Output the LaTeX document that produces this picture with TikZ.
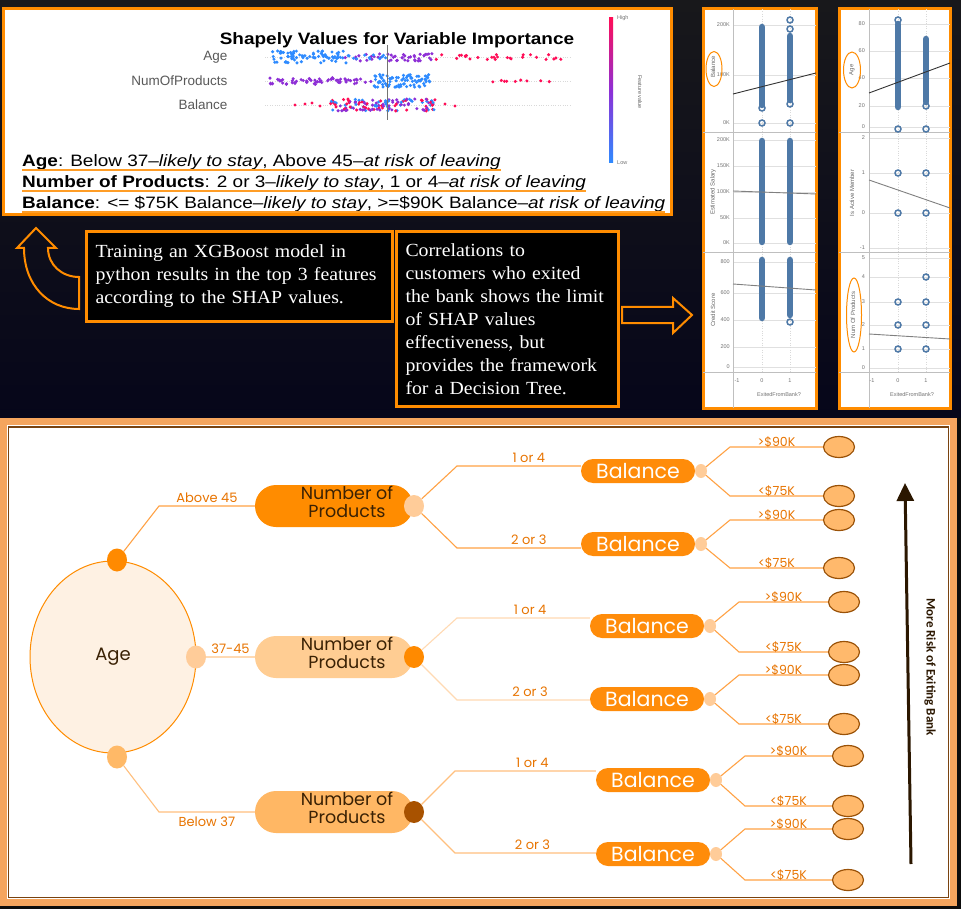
\documentclass[tikz,border=0pt]{standalone}
\usepackage{fontspec}
\usepackage{tikz}
\usetikzlibrary{calc,positioning,shapes,arrows.meta}
\newfontfamily\arialf{Liberation Sans}
\newfontfamily\arialw{Liberation Sans}[FakeStretch=1.15]
\newfontfamily\serifw{Liberation Serif}[FakeStretch=1.07]
\newfontfamily\gothf{Poppins}
\newfontfamily\calf{Carlito}
\definecolor{bgtop}{HTML}{18181B}
\definecolor{bgbot}{HTML}{06061A}
\definecolor{orng}{HTML}{FF8C00}
\definecolor{band}{HTML}{F5A55E}
\definecolor{brn}{HTML}{7A4310}
\definecolor{agefill}{HTML}{FEF1E3}
\definecolor{dotdark}{HTML}{FF8A00}
\definecolor{dotlight}{HTML}{FFCC99}
\definecolor{dotmid}{HTML}{FFB967}
\definecolor{dotbrn}{HTML}{A85200}
\definecolor{pillmid}{HTML}{FFCD93}
\definecolor{pillbot}{HTML}{FFB764}
\definecolor{balfill}{HTML}{FF8C0A}
\definecolor{leaffill}{HTML}{FFB96C}
\definecolor{leafline}{HTML}{9A5208}
\definecolor{lnT}{HTML}{FFA245}
\definecolor{lnM}{HTML}{FFDAB3}
\definecolor{lnB}{HTML}{FFC07E}
\definecolor{lbltxt}{HTML}{E87400}
\definecolor{darktxt}{HTML}{3A2104}
\definecolor{shblue}{HTML}{2E8BFF}
\definecolor{shpurp}{HTML}{8E2FD6}
\definecolor{shred}{HTML}{FF0D57}
\definecolor{ptblue}{HTML}{4E79A7}
\definecolor{riskbrn}{HTML}{2B1700}

\begin{document}
\begin{tikzpicture}[x=1pt, y=-1pt,
  shbox/.style={draw=orng, line width=3pt, fill=white},
  shtxt/.style={inner sep=0pt, anchor=base west, font=\fontsize{16.5}{19}\selectfont\arialw},
  rowlbl/.style={anchor=east, text=black!65, font=\fontsize{13.5}{15}\selectfont\arialf},
  uline/.style={draw=orng!85, line width=1.8pt},
  tbox/.style={draw=orng, line width=3pt, fill=black, text=white, align=left, inner xsep=9pt, anchor=north west, font=\fontsize{18.5}{23}\selectfont\serifw},
  outarrow/.style={draw=orng, line width=2pt, line join=miter},
  pbox/.style={draw=orng, line width=3pt, fill=white},
  grid/.style={draw=black!12, line width=0.5pt},
  tick/.style={anchor=east, inner sep=1pt, text=black!55, font=\fontsize{5.5}{6}\selectfont\arialf},
  xtick/.style={inner sep=1pt, text=black!55, font=\fontsize{5.5}{6}\selectfont\arialf},
  ylab/.style={rotate=90, inner sep=1pt, text=black!60, font=\fontsize{6}{7}\selectfont\arialf},
  ring/.style={draw=orng, line width=1pt, ellipse, inner sep=0pt},
  ptbar/.style={draw=ptblue, line width=6.5pt, line cap=round},
  ptcirc/.style={draw=ptblue, line width=1.5pt},
  trend/.style={draw=black!80, line width=0.9pt},
  gtrend/.style={draw=black!50, line width=0.9pt},
  agenode/.style={ellipse, draw=orng, fill=agefill, line width=1pt, minimum width=166pt, minimum height=192pt, text=darktxt, font=\fontsize{18}{20}\selectfont\gothf},
  adot/.style={ellipse, minimum width=20pt, minimum height=23pt, inner sep=0pt},
  nppill/.style={rectangle, rounded corners=21pt, minimum width=158pt, minimum height=42pt, inner sep=0pt},
  nptxt/.style={align=center, text=darktxt, font=\fontsize{17.5}{18}\selectfont\gothf},
  ndot/.style={ellipse, minimum width=20pt, minimum height=22pt, inner sep=0pt},
  balpill/.style={rectangle, rounded corners=12pt, fill=balfill, minimum width=114pt, minimum height=24pt, inner sep=0pt, text=white, font=\fontsize{20.5}{21}\selectfont\gothf},
  bdot/.style={ellipse, fill=dotlight, minimum width=12pt, minimum height=14pt, inner sep=0pt},
  leaf/.style={ellipse, draw=leafline, fill=leaffill, line width=1.2pt, minimum width=31pt, minimum height=21pt, inner sep=0pt},
  lnleaf/.style={draw=lnT, line width=1.1pt},
  edgelbl/.style={inner sep=1pt, text=lbltxt, font=\fontsize{13}{14}\selectfont\gothf},
  leaflbl/.style={inner sep=0pt, anchor=base, yshift=0.5pt, text=lbltxt, font=\fontsize{12.5}{14}\selectfont\gothf}]
\useasboundingbox (0,0) rectangle (961,909);

% dark top background
\shade[top color=bgtop, bottom color=bgbot] (0,0) rectangle (961,420);
\fill[black!95] (0,418) rectangle (961,909);

% ---------- SHAP panel ----------
\draw[shbox] (3.5,9) rectangle (671,215);
\node[font=\fontsize{16.5}{18}\selectfont\arialw\bfseries] (shtitle) at (397,40) {Shapely Values for Variable Importance};
\node[rowlbl] (rAge) at (231,57) {Age};
\node[rowlbl] (rNum) at (231,81) {NumOfProducts};
\node[rowlbl] (rBal) at (231,105) {Balance};
\foreach \yy in {57,81,105} \draw[black!15, dotted] (265,\yy) -- (570,\yy);
\pgfmathsetseed{17}
\foreach \n/\xa/\xw/\yc/\ys/\col in {80/272/78/57/6/shblue, 45/340/92/57/4/shpurp, 10/350/40/57/2/shblue, 28/435/130/57/2.5/shred, 62/268/104/81/3.5/shpurp, 80/372/58/81/6.5/shblue, 9/488/76/81/1/shred}{
  \foreach \i in {1,...,\n}{
    \pgfmathsetmacro{\px}{\xa+\xw*rnd}
    \pgfmathsetmacro{\py}{\yc+\ys*rand}
    \fill[\col] (\px,\py) circle (1.7pt);
  }
}
\foreach \i in {1,...,140}{
  \pgfmathsetmacro{\px}{330+105*rnd}
  \pgfmathsetmacro{\py}{105+6*rand}
  \pgfmathtruncatemacro{\cc}{3*rnd}
  \ifcase\cc \def\dc{shblue}\or\def\dc{shred}\or\def\dc{shpurp}\else\def\dc{shred}\fi
  \fill[\dc] (\px,\py) circle (1.7pt);
}
\foreach \px/\py in {295/105, 312/103, 320/106, 445/104, 455/106, 305/104}
  \fill[shred] (\px,\py) circle (1.7pt);
\draw[black!55, line width=1pt] (387,45) -- (387,120);
% colour bar
\shade[top color=shred, bottom color=shblue, middle color=shpurp] (609,18) rectangle (613,163);
\node[xtick, anchor=west] (cbHigh) at (616,18) {High};
\node[xtick, anchor=west] (cbLow) at (616,163) {Low};
\node[inner sep=1pt, text=black!60, rotate=-90, font=\fontsize{5.5}{6}\selectfont\arialf] (cbLab) at (640,92) {Feature value};
% findings
\node[shtxt] (l1) at (22,167) {\textbf{Age}: Below 37–\textit{likely to stay}, Above 45–\textit{at risk of leaving}};
\node[shtxt] (l2) at (22,188) {\textbf{Number of Products}: 2 or 3–\textit{likely to stay}, 1 or 4–\textit{at risk of leaving}};
\node[shtxt] (l3) at (22,209) {\textbf{Balance}: <= \$75K Balance–\textit{likely to stay}, >=\$90K Balance–\textit{at risk of leaving}};
\foreach \l in {l1,l2,l3}
  \draw[uline] ([yshift=-3pt]\l.base west) -- ([yshift=-3pt]\l.base east);

% ---------- text boxes and arrows ----------
\draw[outarrow] (36,228) -- (56,248) -- (48,248) .. controls (48,265) and (62,277) .. (79,277)
  -- (79,309) .. controls (48,309) and (24,285) .. (24,248) -- (17,248) -- cycle;
\node[tbox, text width=288pt, minimum height=90pt] (tb1) at (85,230)
  {Training an XGBoost model in\\python results in the top 3 features\\according to the SHAP values.};
\node[tbox, text width=204pt, minimum height=175pt] (tb2) at (395,230)
  {Correlations to\\customers who exited\\the bank shows the limit\\of SHAP values\\effectiveness, but\\provides the framework\\for a Decision Tree.};
\draw[outarrow] (622,307) -- (673,307) -- (673,298) -- (692,315) -- (673,333) -- (673,323) -- (622,323) -- cycle;

% ---------- scatter panel 1 ----------
\draw[pbox] (703,9) rectangle (816,408);
\foreach \yy in {25,75,123,140,166,192,218,243,262,293,320,347,367} \draw[grid] (733,\yy) -- (816,\yy);
\draw[black!25] (703,132) -- (816,132) (703,252) -- (816,252) (703,372) -- (816,372) (733,9) -- (733,408);
\draw[black!15, dotted] (762,9) -- (762,372) (790,9) -- (790,372);
\foreach \t/\yy [count=\k] in {200K/25,100K/75,0K/123,200K/140,150K/166,100K/192,50K/218,0K/243,800/262,600/293,400/320,200/347,0/367}
  \node[tick] (pa\k) at (731,\yy) {\t};
\draw[ptbar] (762,27) -- (762,105);
\draw[ptbar] (790,36) -- (790,100);
\foreach \px/\py in {762/123, 790/123, 790/20, 790/29, 790/104, 762/108}
  \draw[ptcirc] (\px,\py) circle (3pt);
\draw[trend] (733,94) -- (816,73);
\draw[ptbar] (762,141) -- (762,242);
\draw[ptbar] (790,141) -- (790,242);
\draw[gtrend] (733,191) -- (816,194);
\draw[ptbar] (762,260) -- (762,318);
\draw[ptbar] (790,260) -- (790,315);
\draw[ptcirc] (790,322) circle (3pt);
\draw[gtrend] (733,284) -- (816,290);
\node[ylab] (ya1) at (713,67) {Balance};
\node[ring, minimum width=16pt, minimum height=35pt] (rg1) at (714,69) {};
\node[ylab] (ya2) at (713,192) {Estimated Salary};
\node[ylab] (ya3) at (713,310) {Credit Score};
\node[xtick] (xa1) at (737,381) {-1};
\node[xtick] (xa2) at (762,381) {0};
\node[xtick] (xa3) at (790,381) {1};
\node[xtick] (xa4) at (779,395) {ExitedFromBank?};

% ---------- scatter panel 2 ----------
\draw[pbox] (839,9) rectangle (950,408);
\foreach \yy in {24,51,78,106,127,138,173,213,248,258,277,302,325,349,368} \draw[grid] (869,\yy) -- (950,\yy);
\draw[black!25] (839,132) -- (950,132) (839,252) -- (950,252) (839,372) -- (950,372) (869,9) -- (869,408);
\draw[black!15, dotted] (898,9) -- (898,372) (926,9) -- (926,372);
\foreach \t/\yy [count=\k] in {80/24,60/51,40/78,20/106,0/127,2/138,1/173,0/213,-1/248,5/258,4/277,3/302,2/325,1/349,0/368}
  \node[tick] (pb\k) at (866,\yy) {\t};
\draw[ptbar] (898,24) -- (898,107);
\draw[ptbar] (926,39) -- (926,102);
\foreach \px/\py in {898/129, 926/129, 898/20, 926/106}
  \draw[ptcirc] (\px,\py) circle (3pt);
\draw[trend] (869,93) -- (950,63);
\foreach \px/\py in {898/173, 926/173, 898/213, 926/213, 898/302, 898/325, 898/349, 926/277, 926/302, 926/325, 926/349}
  \draw[ptcirc] (\px,\py) circle (3pt);
\draw[gtrend] (869,180) -- (950,208);
\draw[gtrend] (869,334) -- (950,339);
\node[ylab] (yb1) at (852,70) {Age};
\node[ring, minimum width=17pt, minimum height=36pt] (rg2) at (852,70) {};
\node[ylab] (yb2) at (852,193) {Is Active Member};
\node[ylab] (yb3) at (853,315) {Num Of Products};
\node[ring, minimum width=15pt, minimum height=74pt] (rg3) at (854,315) {};
\node[xtick] (xb1) at (872,381) {-1};
\node[xtick] (xb2) at (898,381) {0};
\node[xtick] (xb3) at (926,381) {1};
\node[xtick] (xb4) at (912,395) {ExitedFromBank?};

% ---------- decision tree panel ----------
\fill[band] (0,418) rectangle (957,906);
\fill[white] (7,425) rectangle (950,899);
\draw[brn, line width=1.8pt] (8.5,427) rectangle (948.5,897.5);

\node[agenode] (age) at (113,657) {Age};
\node[adot, fill=dotdark] (adT) at (117,560) {};
\node[adot, fill=dotlight] (adM) at (196,657) {};
\node[adot, fill=dotmid] (adB) at (117,757) {};

\node[nppill, fill=orng] (npT) at (334,506) {};
\node[nptxt] (npTt) at (347,502) {Number of\\Products};
\node[ndot, fill=dotlight] (ndT) at (414,506) {};
\node[nppill, fill=pillmid] (npM) at (334,657) {};
\node[nptxt] (npMt) at (347,653) {Number of\\Products};
\node[ndot, fill=dotdark] (ndM) at (414,657) {};
\node[nppill, fill=pillbot] (npB) at (334,812) {};
\node[nptxt] (npBt) at (347,808) {Number of\\Products};
\node[ndot, fill=dotbrn] (ndB) at (414,812) {};

\coordinate (aT) at (159,506);
\coordinate (aB) at (159,812);
\draw[lnT, line width=1.1pt] (adT) -- (aT) -- node[edgelbl, above=2pt] (eA1) {Above 45} (npT);
\draw[lnM, line width=1.1pt] (adM) -- node[edgelbl, above=2pt] (eA2) {37-45} (npM);
\draw[lnB, line width=1.1pt] (adB) -- (aB) -- node[edgelbl, below=3pt] (eA3) {Below 37} (npB);

% balance nodes and leaves
\foreach \n/\bx/\by/\lx/\uy/\ly in {1/638/471/839/447/496, 2/638/544/839/520/568, 3/647/626/844/602/652, 4/647/699/844/675/724, 5/653/780/848/756/806, 6/653/854/848/829/880}{
  \node[balpill] (bal\n) at (\bx,\by) {Balance};
  \coordinate (ku\n) at ({\bx+92},\uy);
  \coordinate (kl\n) at ({\bx+92},\ly);
  \node[leaf] (lu\n) at (\lx,\uy) {};
  \node[leaf] (ll\n) at (\lx,\ly) {};
  \draw[lnleaf] (\bx+63,\by) -- (ku\n) -- node[leaflbl] (hi\n) {>\$90K} (lu\n);
  \draw[lnleaf] (\bx+63,\by) -- (kl\n) -- node[leaflbl] (lo\n) {<\$75K} (ll\n);
  \node[bdot] (bd\n) at ({\bx+63},\by) {};
}

\coordinate (kT1) at (457,466);
\coordinate (kT2) at (457,548);
\coordinate (kM1) at (457,618);
\coordinate (kM2) at (457,700);
\coordinate (kB1) at (455,771);
\coordinate (kB2) at (455,853);
\draw[lnT, line width=1.1pt] (ndT) -- (kT1) -- node[edgelbl, above=2pt, pos=0.58] (e1) {1 or 4} (kT1 -| bal1.west);
\draw[lnT, line width=1.1pt] (ndT) -- (kT2) -- node[edgelbl, above=2pt, pos=0.58] (e2) {2 or 3} (kT2 -| bal2.west);
\draw[lnM, line width=1.1pt] (ndM) -- (kM1) -- node[edgelbl, above=2pt, pos=0.55] (e3) {1 or 4} (kM1 -| bal3.west);
\draw[lnM, line width=1.1pt] (ndM) -- (kM2) -- node[edgelbl, above=2pt, pos=0.55] (e4) {2 or 3} (kM2 -| bal4.west);
\draw[lnB, line width=1.1pt] (ndB) -- (kB1) -- node[edgelbl, above=2pt, pos=0.55] (e5) {1 or 4} (kB1 -| bal5.west);
\draw[lnB, line width=1.1pt] (ndB) -- (kB2) -- node[edgelbl, above=2pt, pos=0.55] (e6) {2 or 3} (kB2 -| bal6.west);

% risk arrow
\coordinate (rb) at (911,864);
\coordinate (rt) at (905,483);
\draw[riskbrn, line width=3pt, -{Triangle[width=17pt,length=18pt]}] (rb) -- (rt);
\node[rotate=-90, text=riskbrn, font=\fontsize{13}{14}\selectfont\calf\bfseries] (risk) at (930,667) {More Risk of Exiting Bank};
\end{tikzpicture}
\end{document}
